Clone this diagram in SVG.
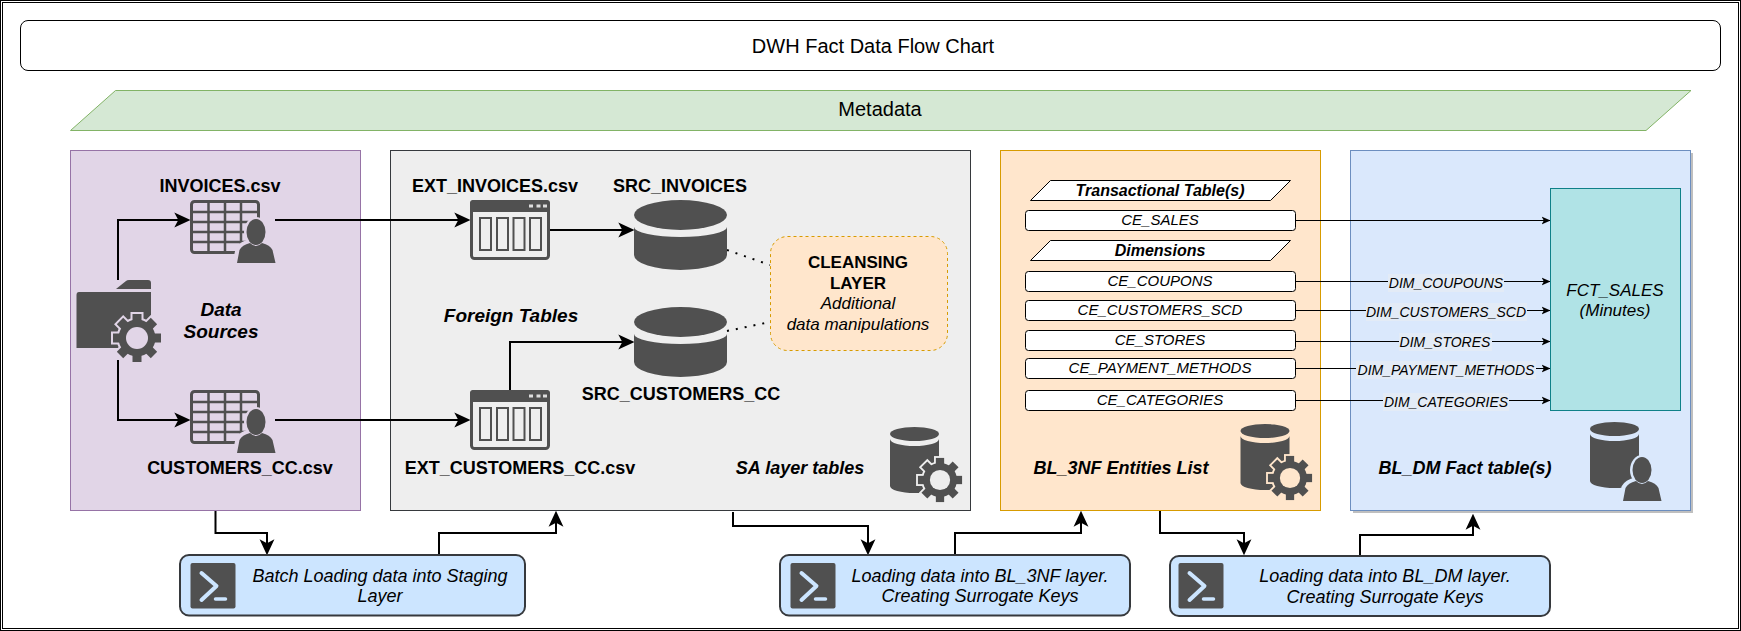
<svg xmlns="http://www.w3.org/2000/svg" xmlns:xlink="http://www.w3.org/1999/xlink" width="1741" height="631" viewBox="0 0 1741 631">
<style>
text{font-family:"Liberation Sans",Arial,sans-serif;fill:#000;text-anchor:middle}
.b{font-size:18px;font-weight:bold}
.bi{font-size:19px;font-weight:bold;font-style:italic}
.bs{font-size:18px;font-weight:bold;font-style:italic}
.i{font-size:18px;font-style:italic}
.r{font-size:15px;font-style:italic}
.h{font-size:16px;font-weight:bold;font-style:italic}
.c{font-size:17px;font-style:italic}
.cb{font-size:17px;font-weight:bold}
.f{font-size:17px;font-style:italic}
.s{font-size:14px;font-style:italic}
.row{fill:#fff;stroke:#000;stroke-width:1}
.par{fill:#fff;stroke:#000;stroke-width:1}
.lbl{fill:#e3ebf6}
.thick{fill:none;stroke:#000;stroke-width:2;marker-end:url(#big)}
.thin{fill:none;stroke:#000;stroke-width:1;marker-end:url(#small)}
.dot{fill:none;stroke:#000;stroke-width:2;stroke-dasharray:2 7}
.ico{fill:#505050}
.task{fill:#cce5ff;stroke:#36393d;stroke-width:2}
</style>
<defs>
<marker id="big" markerUnits="userSpaceOnUse" markerWidth="16" markerHeight="16" viewBox="0 0 14 14" refX="12" refY="7" orient="auto"><path d="M0 .5L14 7L0 13.500L3.500 7Z" fill="#000"/></marker>
<marker id="small" markerUnits="userSpaceOnUse" markerWidth="9" markerHeight="9" viewBox="0 0 8 8" refX="7.500" refY="4" orient="auto"><path d="M0 .5L8 4L0 7.500L2 4Z" fill="#000"/></marker>
<g id="teeth">
<rect x="-4.500" y="-24" width="9" height="48"/><rect x="-4.500" y="-24" width="9" height="48" transform="rotate(45)"/><rect x="-4.500" y="-24" width="9" height="48" transform="rotate(90)"/><rect x="-4.500" y="-24" width="9" height="48" transform="rotate(135)"/><circle r="18.500"/>
</g>
<g id="gear">
<use href="#teeth" fill="currentColor" stroke="currentColor" stroke-width="4"/>
<use href="#teeth" fill="#505050"/>
<circle r="11" fill="currentColor"/>
</g>
<g id="person">
<ellipse cx="19" cy="2" rx="12" ry="15" fill="currentColor"/>
<path d="M-3 33L0 19Q3 13 13 11Q19 17 25 11Q35 13 38 19L41 33Z" fill="currentColor" stroke="currentColor" stroke-width="3"/>
<ellipse cx="19" cy="2" rx="9.500" ry="13" fill="#505050"/>
<path d="M0 33L2.500 20Q5 15 13 13Q19 19 25 13Q33 15 35.500 20L38.500 33Z" fill="#505050"/>
</g>
<g id="table">
<rect x="1.500" y="1.500" width="67" height="51" rx="3" fill="none" stroke="#505050" stroke-width="3"/>
<path d="M2 12H69M2 22H69M2 32H69M2 42H69M18.500 2V52M35 2V52M51 2V52" fill="none" stroke="#505050" stroke-width="2.500"/>
</g>
<g id="ext">
<rect x="1.500" y="1.500" width="77" height="57" rx="3" fill="none" stroke="#505050" stroke-width="3"/>
<path d="M0 12V3Q0 0 3 0H77Q80 0 80 3V12Z" fill="#505050"/>
<path d="M59 4.500h4v3h-4zM66.500 4.500h4v3h-4zM73 4.500h4v3h-4z" fill="#ddd"/>
<path d="M10 18h11v32h-11zM27 18h11v32h-11zM43.500 18h11v32h-11zM60 18h11v32h-11z" fill="none" stroke="#505050" stroke-width="2"/>
</g>
<g id="cyl">
<ellipse cx="46.500" cy="15" rx="46.500" ry="15" fill="#505050"/>
<path d="M0 27A46.500 10 0 0 0 93 27V55A46.500 15 0 0 1 0 55Z" fill="#505050"/>
</g>
<g id="minicyl">
<ellipse cx="24.500" cy="7" rx="24.500" ry="7" fill="#505050"/>
<path d="M0 12A24.500 7 0 0 0 49 12V59A24.500 7 0 0 1 0 59Z" fill="#505050"/>
</g>
<g id="term">
<rect width="45" height="45.500" rx="2" fill="#505050"/>
<path d="M11 10L26 23L11 37" fill="none" stroke="#cce5ff" stroke-width="4" stroke-linecap="round" stroke-linejoin="round"/>
<path d="M25 36H35" fill="none" stroke="#cce5ff" stroke-width="3.500" stroke-linecap="round"/>
</g>
</defs>
<rect width="1741" height="631" fill="#fff"/>
<rect x=".5" y=".5" width="1740" height="630" fill="none" stroke="#000"/>
<rect x="2.500" y="2.500" width="1736" height="626" fill="none" stroke="#000"/>

<g id="title"><rect x="20.500" y="20.500" width="1700" height="50" rx="7.500" fill="#fff" stroke="#000"/><text x="873" y="53" font-size="20px">DWH Fact Data Flow Chart</text></g>
<g id="metadata"><path d="M70.500 130.500L115.500 90.500H1691L1646 130.500Z" fill="#d5e8d4" stroke="#82b366"/><text x="880" y="116" font-size="20px">Metadata</text></g>

<g id="panel-sources"><rect x="70.500" y="150.500" width="290" height="360" fill="#e1d5e7" stroke="#9673a6"/></g>
<g id="panel-sa"><rect x="390.500" y="150.500" width="580" height="360" fill="#eeeeee" stroke="#36393d"/></g>
<g id="panel-3nf"><rect x="1000.500" y="150.500" width="320" height="360" fill="#ffe6cc" stroke="#d79b00"/></g>
<g id="panel-dm"><rect x="1353" y="153" width="340" height="360" fill="#bfbfbf"/><rect x="1350.500" y="150.500" width="340" height="360" fill="#dae8fc" stroke="#6c8ebf"/></g>

<g id="connectors">
<path class="thick" d="M118 280V220H188"/>
<path class="thick" d="M118 360V420H188"/>
<path class="thick" d="M275 220H468"/>
<path class="thick" d="M275 420H468"/>
<path class="thick" d="M550 230H632"/>
<path class="thick" d="M510 390V342H632"/>
<path class="dot" d="M727 250L770 265"/>
<path class="dot" d="M727 331L770 322"/>
<path class="thick" d="M215.500 511V533H267V553"/>
<path class="thick" d="M439 555V533H556V513"/>
<path class="thick" d="M733 512V526H868V553"/>
<path class="thick" d="M955 555V533H1081V513"/>
<path class="thick" d="M1160 511V533H1244V553"/>
<path class="thick" d="M1360 555V535H1473V516"/>
<path class="thin" d="M1296 220.500H1550"/>
<path class="thin" d="M1296 281.500H1550"/>
<path class="thin" d="M1296 310.500H1550"/>
<path class="thin" d="M1296 341.500H1550"/>
<path class="thin" d="M1296 368.500H1550"/>
<path class="thin" d="M1296 400.500H1550"/>
<rect class="lbl" x="1388" y="274" width="116" height="18"/><text class="s" x="1446" y="288">DIM_COUPOUNS</text>
<rect class="lbl" x="1366" y="303" width="161" height="18"/><text class="s" x="1446" y="317">DIM_CUSTOMERS_SCD</text>
<rect class="lbl" x="1399" y="333" width="93" height="18"/><text class="s" x="1445" y="347">DIM_STORES</text>
<rect class="lbl" x="1356" y="361" width="180" height="18"/><text class="s" x="1446" y="375">DIM_PAYMENT_METHODS</text>
<rect class="lbl" x="1383" y="393" width="126" height="18"/><text class="s" x="1446" y="407">DIM_CATEGORIES</text>
</g>

<g id="data-sources"><path class="ico" d="M116 289L126 281Q127 280 129 280H148Q151 280 151 283V289ZM79 292H151V348H76.500V295Q76.500 292 79 292Z"/><use href="#gear" x="137" y="338" color="#e1d5e7"/><text class="bi" x="221" y="316">Data</text><text class="bi" x="221" y="338">Sources</text></g>
<g id="invoices-csv"><use href="#table" x="190" y="200"/><use href="#person" x="237" y="230" color="#e1d5e7"/><text class="b" x="220" y="192">INVOICES.csv</text></g>
<g id="customers-csv"><use href="#table" x="190" y="390"/><use href="#person" x="237" y="420" color="#e1d5e7"/><text class="b" x="240" y="474">CUSTOMERS_CC.csv</text></g>
<g id="ext-invoices"><use href="#ext" x="470" y="200"/><text class="b" x="495" y="192">EXT_INVOICES.csv</text></g>
<g id="ext-customers"><use href="#ext" x="470" y="390"/><text class="b" x="520" y="474">EXT_CUSTOMERS_CC.csv</text></g>
<g id="src-invoices"><use href="#cyl" x="634" y="200"/><text class="b" x="680" y="192">SRC_INVOICES</text></g>
<g id="src-customers"><use href="#cyl" x="634" y="307"/><text class="b" x="681" y="400">SRC_CUSTOMERS_CC</text></g>
<g id="foreign-tables"><text class="bi" x="511" y="322">Foreign Tables</text></g>
<g id="cleansing"><rect x="770.500" y="236.500" width="177" height="114" rx="17" fill="#ffe6cc" stroke="#d79b00" stroke-dasharray="3 3"/><text class="cb" x="858" y="268">CLEANSING</text><text class="cb" x="858" y="289">LAYER</text><text class="c" x="858" y="309">Additional</text><text class="c" x="858" y="330">data manipulations</text></g>
<g id="sa-label"><text class="bs" x="800" y="474">SA layer tables</text><use href="#minicyl" x="890" y="427"/><use href="#gear" transform="translate(940 480) scale(.92)" color="#eeeeee"/></g>

<g id="ce-heading-1"><path class="par" d="M1030.500 200.500L1050.500 180.500H1290.500L1270.500 200.500Z"/><text class="h" x="1160" y="196">Transactional Table(s)</text></g>
<g id="ce-sales"><rect class="row" x="1025.500" y="210.500" width="270" height="20" rx="3"/><text class="r" x="1160" y="225">CE_SALES</text></g>
<g id="ce-heading-2"><path class="par" d="M1030.500 260.500L1050.500 240.500H1290.500L1270.500 260.500Z"/><text class="h" x="1160" y="256">Dimensions</text></g>
<g id="ce-coupons"><rect class="row" x="1025.500" y="271.500" width="270" height="20" rx="3"/><text class="r" x="1160" y="286">CE_COUPONS</text></g>
<g id="ce-customers"><rect class="row" x="1025.500" y="300.500" width="270" height="20" rx="3"/><text class="r" x="1160" y="315">CE_CUSTOMERS_SCD</text></g>
<g id="ce-stores"><rect class="row" x="1025.500" y="330.500" width="270" height="20" rx="3"/><text class="r" x="1160" y="345">CE_STORES</text></g>
<g id="ce-payment"><rect class="row" x="1025.500" y="358.500" width="270" height="20" rx="3"/><text class="r" x="1160" y="373">CE_PAYMENT_METHODS</text></g>
<g id="ce-categories"><rect class="row" x="1025.500" y="390.500" width="270" height="20" rx="3"/><text class="r" x="1160" y="405">CE_CATEGORIES</text></g>
<g id="bl3nf-label"><text class="bs" x="1121" y="474">BL_3NF Entities List</text><use href="#minicyl" x="1240.500" y="424"/><use href="#gear" transform="translate(1290 478) scale(.92)" color="#ffe6cc"/></g>

<g id="fct-sales"><rect x="1550.500" y="188.500" width="130" height="222" fill="#b0e3e6" stroke="#0e8088"/><text class="f" x="1615" y="296">FCT_SALES</text><text class="f" x="1615" y="316">(Minutes)</text></g>
<g id="bldm-label"><text class="bs" x="1465" y="474">BL_DM Fact table(s)</text><use href="#minicyl" x="1590" y="422"/><use href="#person" x="1623" y="468" color="#dae8fc"/></g>

<g id="task-staging"><rect class="task" x="180" y="555" width="345" height="60.500" rx="9"/><use href="#term" x="190.500" y="563"/><text class="i" x="380" y="582">Batch Loading data into Staging</text><text class="i" x="380" y="602">Layer</text></g>
<g id="task-3nf"><rect class="task" x="780" y="555" width="350" height="60.500" rx="9"/><use href="#term" x="790.500" y="563"/><text class="i" x="980" y="582">Loading data into BL_3NF layer.</text><text class="i" x="980" y="602">Creating Surrogate Keys</text></g>
<g id="task-dm"><rect class="task" x="1170" y="556" width="380" height="60" rx="9"/><use href="#term" x="1178.500" y="563"/><text class="i" x="1385" y="582">Loading data into BL_DM layer.</text><text class="i" x="1385" y="603">Creating Surrogate Keys</text></g>
</svg>
